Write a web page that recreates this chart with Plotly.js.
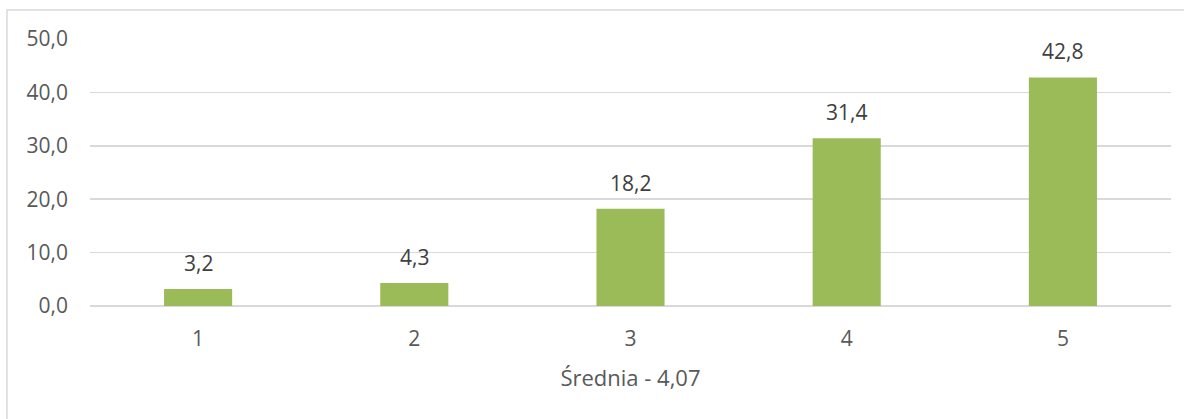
<!DOCTYPE html>
<html>
<head>
<meta charset="utf-8">
<script src="https://cdn.plot.ly/plotly-3.0.1.min.js"></script>
<style>html,body{margin:0;padding:0;background:#fff;}#chart{width:1184px;height:419px;}</style>
</head>
<body>
<div id="chart"></div>
<script>
const categories = ["1", "2", "3", "4", "5"];
const values = [3.2, 4.3, 18.2, 31.4, 42.8];
const labels = ["3,2", "4,3", "18,2", "31,4", "42,8"];
const xTitle = "Średnia - 4,07";

const font = "Open Sans, sans-serif";
const trace = {
  type: "bar",
  x: categories,
  y: values,
  marker: {color: "#9BBB59"},
  hoverinfo: "skip"
};
const annotations = categories.map((c, i) => ({
  x: i, y: values[i], xref: "x", yref: "y",
  text: labels[i], showarrow: false,
  yanchor: "bottom", yshift: 10,
  font: {family: font, size: 21, color: "#404040"}
}));
const layout = {
  width: 1184, height: 419,
  margin: {l: 90, r: 13, t: 39, b: 113},
  paper_bgcolor: "#fff", plot_bgcolor: "#fff",
  separators: ",.",
  bargap: 0.685,
  showlegend: false,
  font: {family: font, color: "#595959", size: 21},
  xaxis: {
    type: "category", range: [-0.5, 4.5],
    showgrid: false, zeroline: false, showline: false,
    ticks: "", ticklabelstandoff: 18,
    tickfont: {family: font, size: 21, color: "#595959"},
    title: {text: xTitle, font: {family: font, size: 22, color: "#595959"}, standoff: 19}
  },
  yaxis: {
    range: [0, 50], dtick: 10, tickformat: ".1f",
    showgrid: true, gridcolor: "#D9D9D9", gridwidth: 1.5,
    zeroline: true, zerolinecolor: "#D9D9D9", zerolinewidth: 1.5,
    showline: false, ticks: "", ticklabelstandoff: 21,
    tickfont: {family: font, size: 21, color: "#595959"}
  },
  annotations: annotations,
  shapes: [{
    type: "rect", xref: "paper", yref: "paper",
    x0: -0.0768, x1: 1.03, y0: -0.5, y1: 1.1086,
    line: {color: "#D9D9D9", width: 1.5}, fillcolor: "rgba(0,0,0,0)", layer: "below"
  }]
};
Plotly.newPlot("chart", [trace], layout, {displayModeBar: false, staticPlot: true});
</script>
</body>
</html>
